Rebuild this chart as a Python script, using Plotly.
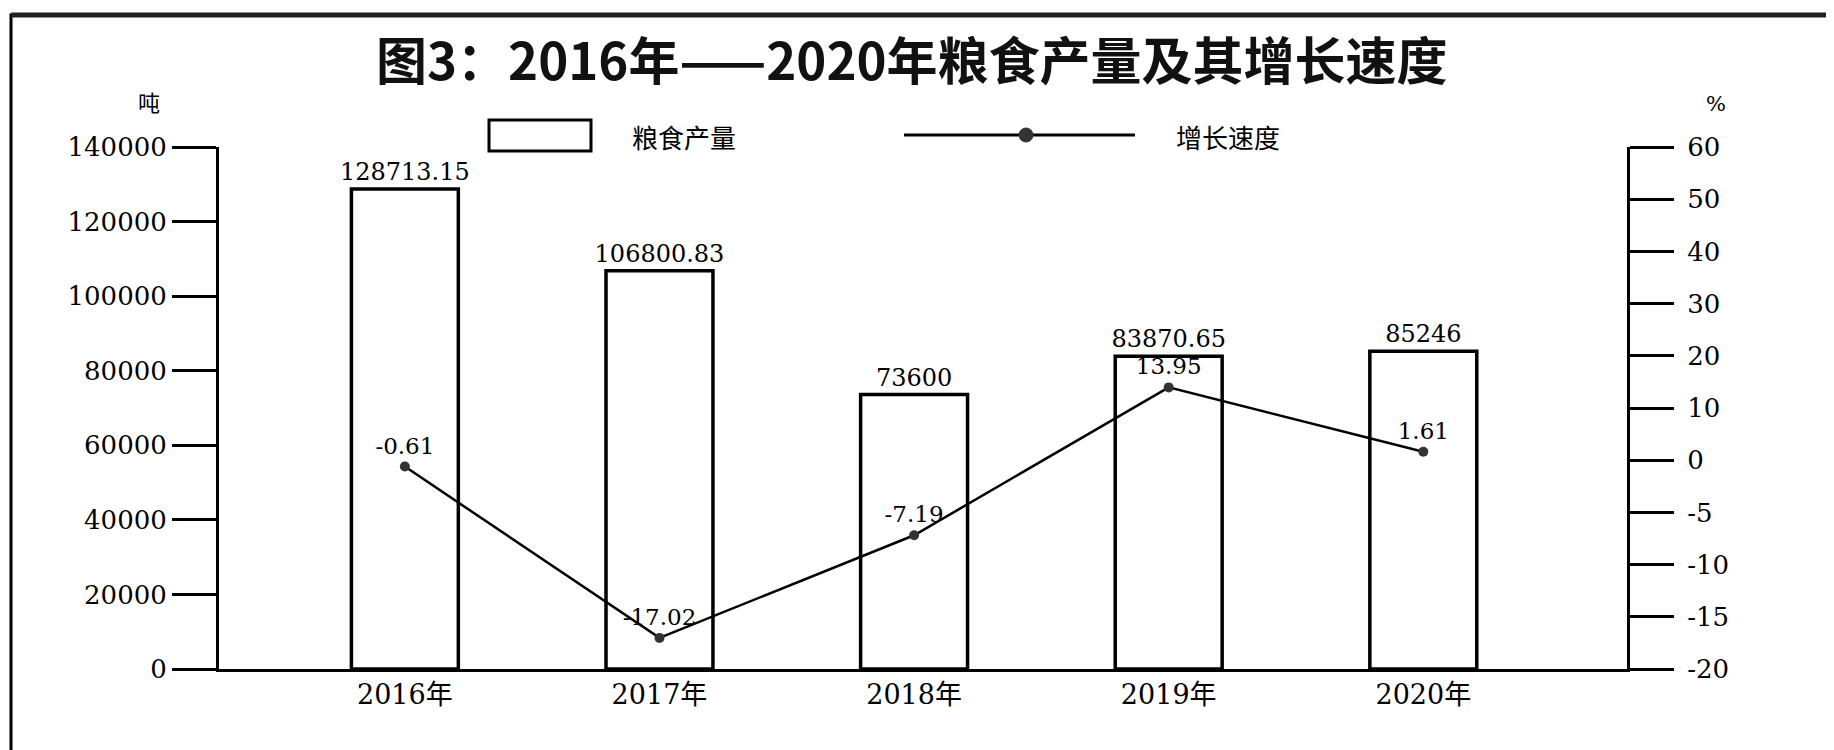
import plotly.graph_objects as go

# ---- data ----
years = ["2016年", "2017年", "2018年", "2019年", "2020年"]
output_tons = [128713.15, 106800.83, 73600, 83870.65, 85246]
output_labels = ["128713.15", "106800.83", "73600", "83870.65", "85246"]
growth_pct = [-0.61, -17.02, -7.19, 13.95, 1.61]
growth_labels = ["-0.61", "-17.02", "-7.19", "13.95", "1.61"]

left_ticks = [0, 20000, 40000, 60000, 80000, 100000, 120000, 140000]
right_tick_values = [-20, -15, -10, -5, 0, 10, 20, 30, 40, 50, 60]


# right axis is piecewise: 5 per step below zero, 10 per step above zero
def pct_to_pos(v):
    return v / 10.0 if v >= 0 else v / 5.0


growth_pos = [pct_to_pos(v) for v in growth_pct]
right_tickvals = [pct_to_pos(v) for v in right_tick_values]
right_ticktext = [str(v) for v in right_tick_values]

# ---- layout geometry (pixels) ----
W, H = 1834, 750
DX, DY = -8, -9
PL, PR, PT, PB = 219 + DX, 1627 + DX, 148 + DY, 670 + DY


def px(x):
    return (x - PL) / (PR - PL)


def py(y):
    return (PB - y) / (PB - PT)


SERIF = "DejaVu Serif, Noto Sans CJK SC"
CJK = "Noto Sans CJK SC"

fig = go.Figure()

fig.add_trace(go.Bar(
    x=years, y=output_tons, name="粮食产量",
    width=0.42,
    marker=dict(color="white", line=dict(color="black", width=3.5)),
    text=output_labels, textposition="outside", constraintext="none",
    textfont=dict(family=SERIF, size=24, color="black"),
    cliponaxis=False,
    yaxis="y",
))

fig.add_trace(go.Scatter(
    x=years, y=growth_pos, name="增长速度",
    mode="lines+markers+text",
    line=dict(color="black", width=2.5),
    marker=dict(color="#333333", size=10),
    text=growth_labels, textposition="top center",
    textfont=dict(family=SERIF, size=23, color="black"),
    cliponaxis=False,
    yaxis="y2",
))

shapes = []
annotations = []

# outer frame
shapes.append(dict(type="rect", xref="paper", yref="paper",
                   x0=px(3), x1=px(1831), y0=py(752), y1=py(7),
                   line=dict(color="black", width=3), layer="below"))
shapes.append(dict(type="line", xref="paper", yref="paper",
                   x0=px(3), x1=px(1831), y0=py(7), y1=py(7),
                   line=dict(color="#222", width=5)))

# legend (drawn manually)
shapes.append(dict(type="rect", xref="paper", yref="paper",
                   x0=px(489 + DX), x1=px(591 + DX), y0=py(152 + DY), y1=py(121 + DY),
                   line=dict(color="black", width=3), fillcolor="white"))
shapes.append(dict(type="line", xref="paper", yref="paper",
                   x0=px(904 + DX), x1=px(1135 + DX), y0=py(136 + DY), y1=py(136 + DY),
                   line=dict(color="black", width=3)))
shapes.append(dict(type="circle", xref="paper", yref="paper",
                   x0=px(1019 + DX), x1=px(1033 + DX), y0=py(143 + DY), y1=py(129 + DY),
                   line=dict(color="#333", width=1), fillcolor="#333"))
annotations.append(dict(text="粮食产量", xref="paper", yref="paper",
                        x=px(684 + DX), y=py(137 + DY), showarrow=False,
                        xanchor="center", yanchor="middle",
                        font=dict(family=CJK, size=26, color="black")))
annotations.append(dict(text="增长速度", xref="paper", yref="paper",
                        x=px(1228 + DX), y=py(137 + DY), showarrow=False,
                        xanchor="center", yanchor="middle",
                        font=dict(family=CJK, size=26, color="black")))

# title
annotations.append(dict(text="<b>图3：2016年——2020年粮食产量及其增长速度</b>",
                        xref="paper", yref="paper", x=px(912 + DX), y=py(61 + DY - 2),
                        showarrow=False, xanchor="center", yanchor="middle",
                        font=dict(family=CJK, size=51, color="#111")))
# units
annotations.append(dict(text="吨", xref="paper", yref="paper",
                        x=px(149 + DX), y=py(102 + DY), showarrow=False,
                        xanchor="center", yanchor="middle",
                        font=dict(family=CJK, size=22, color="black")))
annotations.append(dict(text="%", xref="paper", yref="paper",
                        x=px(1716 + DX), y=py(105 + DY), showarrow=False,
                        xanchor="center", yanchor="middle",
                        font=dict(family=SERIF, size=21, color="black")))

fig.update_layout(
    width=W, height=H,
    margin=dict(l=PL, r=W - PR, t=PT, b=H - PB, autoexpand=False),
    paper_bgcolor="white", plot_bgcolor="white",
    showlegend=False,
    xaxis=dict(
        type="category", range=[-0.73, 4.80],
        showline=True, linecolor="black", linewidth=3,
        ticks="", showgrid=False, zeroline=False,
        tickfont=dict(family=SERIF, size=27, color="black"),
    ),
    yaxis=dict(
        range=[0, 140000], tickvals=left_ticks,
        ticktext=[str(v) for v in left_ticks],
        showline=True, linecolor="black", linewidth=3,
        ticks="outside", ticklen=44, tickwidth=3, tickcolor="black",
        showgrid=False, zeroline=False,
        tickfont=dict(family=SERIF, size=26, color="black"),
    ),
    yaxis2=dict(
        overlaying="y", side="right",
        range=[-4, 6], tickvals=right_tickvals, ticktext=right_ticktext,
        showline=True, linecolor="black", linewidth=3,
        ticks="outside", ticklen=44, tickwidth=3, tickcolor="black",
        ticklabelstandoff=8,
        showgrid=False, zeroline=False,
        tickfont=dict(family=SERIF, size=26, color="black"),
    ),
    shapes=shapes,
    annotations=annotations,
)

fig.write_html("out.html")
